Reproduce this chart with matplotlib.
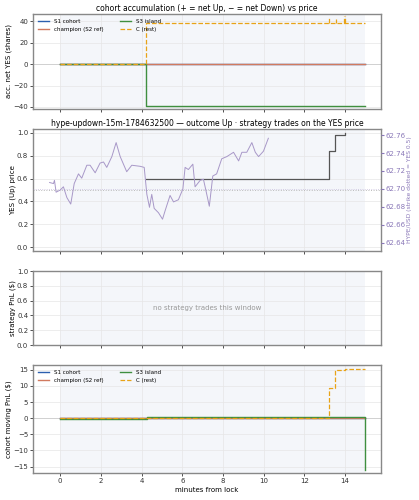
import matplotlib
matplotlib.use("Agg")
import matplotlib.pyplot as plt
import numpy as np

# price path (minutes, HYPE/USD)
px_t = [-0.52,-0.33,-0.28,-0.20,0.0,0.16,0.33,0.52,0.69,0.90,1.06,1.31,1.47,1.72,1.96,2.13,2.29,2.54,2.75,2.95,3.27,3.52,3.93,4.13,4.26,4.39,4.50,4.62,4.83,5.03,5.16,5.40,5.57,5.81,6.03,6.14,6.30,6.52,6.63,6.88,7.04,7.17,7.33,7.50,7.69,7.94,8.19,8.52,8.77,8.93,9.17,9.42,9.59,9.75,9.99,10.23]
px_v = [62.7072,62.706,62.7096,62.6964,62.6988,62.7024,62.6904,62.6832,62.706,62.7168,62.712,62.7264,62.7264,62.718,62.7288,62.73,62.724,62.736,62.7516,62.736,62.7192,62.7264,62.7252,62.724,62.6940,62.6796,62.694,62.6784,62.6736,62.6664,62.676,62.6928,62.6856,62.688,62.700,62.724,62.7216,62.7276,62.7024,62.7096,62.7108,62.6976,62.6808,62.7144,62.7168,62.7336,62.736,62.7408,62.7312,62.7408,62.7408,62.7516,62.7408,62.736,62.742,62.7564]
strike = 62.70
# strategy YES price steps
yes_t = [4.22, 13.2, 13.5, 13.9, 14.0]
yes_v = [0.60, 0.84, 0.98, 0.98, 1.0]
# cohort accumulation
acc_t = [0, 4.2, 4.2, 15]
s3_acc = [0, 0, -39, -39]
c_acc = [0, 0, 39, 39]
spike_t = [13.2, 13.55, 13.95, 14.0]
spike_top = [44, 42, 45, 45]
# cohort moving pnl
pnl_t = [0, 4.25, 13.2, 13.5, 14.0, 15.0, 15.0]
s3_pnl = [-0.3, 0.3, 0.3, 0.3, 0.3, 0.3, -16]
c_pnl = [0, 0, 9.5, 15.0, 15.2, 15.4, 15.4]

grid_kw = dict(color="#e6e6e6", lw=0.5)
fig = plt.figure(figsize=(4.19, 5.0), dpi=100)
L, W = 0.079, 0.830
ax1 = fig.add_axes([L, 0.782, W, 0.190])
ax2 = fig.add_axes([L, 0.498, W, 0.244])
ax3 = fig.add_axes([L, 0.310, W, 0.148])
ax4 = fig.add_axes([L, 0.054, W, 0.216])
blue, red, green, orange = "#2b5fae", "#d17a5f", "#3f8f3f", "#e8a317"
tfs = 5.0
for ax in (ax1, ax2, ax3, ax4):
    ax.set_xlim(-1.33, 15.76)
    ax.axvspan(0, 15, color="#eef0f8", alpha=0.6, lw=0)
    ax.grid(True, **grid_kw)
    ax.set_xticks(range(0, 15, 2))
    ax.tick_params(labelsize=tfs, length=2.0, width=0.6, colors="#333333", pad=1.5)
    for s in ax.spines.values():
        s.set_color("#888888"); s.set_linewidth(1.0)
for ax in (ax1, ax2, ax3):
    ax.tick_params(labelbottom=False)

fs = 5.0
ax1.set_title("cohort accumulation (+ = net Up, − = net Down) vs price", fontsize=5.5, pad=2.5)
ax1.axhline(0, color="#cccccc", lw=0.6)
ax1.step(acc_t, [0]*4, where="post", color=blue, lw=1.0, label="S1 cohort")
ax1.step(acc_t, [0]*4, where="post", color=red, lw=1.0, label="champion (S2 ref)")
ax1.plot(acc_t, s3_acc, color=green, lw=1.0, label="S3 island")
ax1.plot(acc_t, c_acc, color=orange, lw=0.9, ls="--", label="C (rest)")
ax1.vlines(spike_t, 39, spike_top, color=orange, lw=0.9, linestyles="--")
ax1.set_ylim(-42, 47)
ax1.set_yticks([-40, -20, 0, 20, 40])
ax1.set_ylabel("acc. net YES (shares)", fontsize=fs, labelpad=1)
ax1.legend(loc="upper left", ncol=2, fontsize=4, frameon=False, handlelength=2, columnspacing=3)

ax2.set_title("hype-updown-15m-1784632500 — outcome Up · strategy trades on the YES price", fontsize=5.5, pad=2.5)
ax2.set_ylim(-0.035, 1.035)
ax2.set_yticks([0, 0.2, 0.4, 0.6, 0.8, 1.0])
ax2.axhline(0.5, color="#bbbbbb", lw=0.7, ls=":")
ax2.set_ylabel("YES (Up) price", fontsize=fs, labelpad=1)
ax2.step(yes_t, yes_v, where="post", color="#555555", lw=0.9)
tw = ax2.twinx()
tw.plot(px_t, px_v, color="#a898c8", lw=0.7)
tw.axhline(strike, color="#a898c8", lw=0.6, ls=":", alpha=0.6)
tw.set_ylim(62.631, 62.7667)
tw.set_yticks([62.64, 62.66, 62.68, 62.70, 62.72, 62.74, 62.76])
tw.tick_params(labelsize=tfs, colors="#8a78b8", length=2.0, pad=1.5)
tw.set_ylabel("HYPE/USD (strike dotted = YES 0.5)", fontsize=4.3, color="#8a78b8", labelpad=1)
for s in tw.spines.values():
    s.set_visible(False)

ax3.set_ylim(0, 1)
ax3.set_ylabel("strategy PnL ($)", fontsize=fs, labelpad=1)
ax3.text(0.5, 0.5, "no strategy trades this window", transform=ax3.transAxes,
         ha="center", va="center", fontsize=5, color="#999999")

ax4.axhline(0, color="#cccccc", lw=0.6)
ax4.plot(pnl_t, [0]*7, color=blue, lw=1.0, label="S1 cohort")
ax4.plot(pnl_t, [0]*7, color=red, lw=1.0, label="champion (S2 ref)")
ax4.step(pnl_t, s3_pnl, where="post", color=green, lw=1.0, label="S3 island")
ax4.step(pnl_t, c_pnl, where="post", color=orange, lw=0.9, ls="--", label="C (rest)")
ax4.set_ylim(-17, 16.5)
ax4.set_yticks([-15, -10, -5, 0, 5, 10, 15])
ax4.set_ylabel("cohort moving PnL ($)", fontsize=fs, labelpad=1)
ax4.set_xlabel("minutes from lock", fontsize=fs, labelpad=2)
ax4.legend(loc="upper left", ncol=2, fontsize=4, frameon=False, handlelength=2, columnspacing=3)

fig.savefig("out.png", dpi=100)
